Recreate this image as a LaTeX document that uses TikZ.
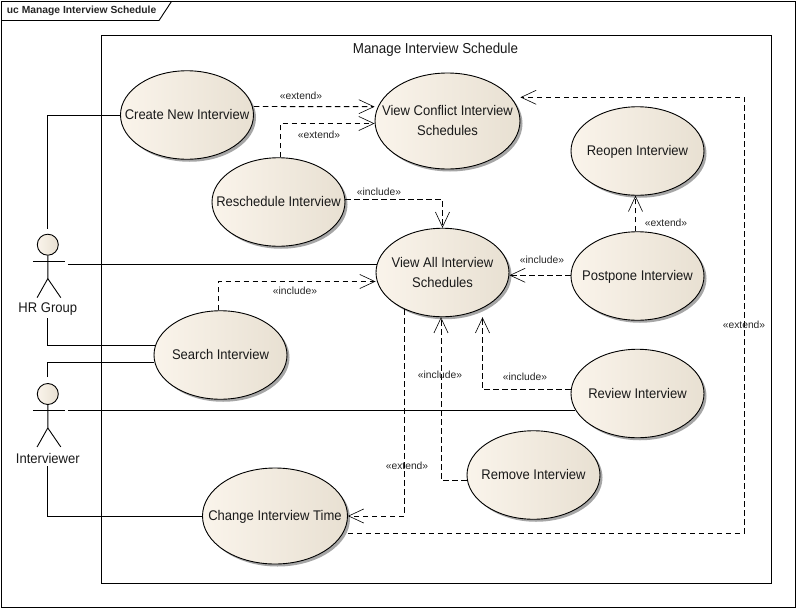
\documentclass[tikz,border=0pt]{standalone}
\usepackage{fontspec}
\setmainfont{Liberation Sans}
\newfontfamily\casefont[FakeStretch=0.93]{Liberation Sans}
\usetikzlibrary{positioning,shapes.geometric,shadows,arrows.meta}
\newcommand{\casename}[1]{\makebox[0pt]{\smash{\raisebox{-4.5pt}{\begin{tabular}{@{}c@{}}#1\end{tabular}}}}}

\begin{document}
\begin{tikzpicture}[
      x=1pt, y=-1pt, on grid,
      every path/.style = {line width=0.9pt},
      usecase/.style = {ellipse, draw, inner sep=0pt, font=\casefont\fontsize{14}{20}\selectfont,
         text=black!90, minimum width=133pt, minimum height=88.5pt,
         left color=caseleft, middle color=casemid, right color=caseright,
         general shadow={shadow xshift=2.5pt, shadow yshift=-2.5pt, fill=black!35}},
      bigcase/.style = {usecase, minimum width=145pt, minimum height=96pt},
      actorhead/.style = {circle, draw, inner sep=0pt, minimum size=21pt,
         left color=caseleft, right color=caseright},
      actorlabel/.style = {inner sep=2pt, font=\casefont\fontsize{14}{16}\selectfont, text=black!90},
      stereo/.style = {inner sep=0pt, font=\fontsize{10.3}{12}\selectfont, text=black!85},
      assoc/.style = {line width=0.9pt},
      depend/.style = {line width=0.9pt, dash pattern=on 5.5pt off 3.5pt,
         -{Straight Barb[length=15pt,width=14pt,line width=0.6pt]}},
   ]
      \definecolor{caseleft}{RGB}{250,244,235}
      \definecolor{casemid}{RGB}{250,246,240}
      \definecolor{caseright}{RGB}{232,224,210}

      \useasboundingbox (0,0) rectangle (796,608);
      \fill[white] (0,0) rectangle (796,608);

      % frames
      \draw (1.5,1.5) rectangle (795,607);
      \draw (1.5,20.5) -- (159,20.5) -- (171.5,1.5);
      \node[font=\bfseries\fontsize{10.3}{12}\selectfont, anchor=west, inner sep=0pt, text=black!85]
         (frametitle) at (6.5,10.5) {uc Manage Interview Schedule};
      \draw (101.5,35.5) rectangle (771.5,583.5);
      \node[font=\casefont\fontsize{14.4}{16}\selectfont, text=black!90] (boxtitle) at (435.5,50)
         {Manage Interview Schedule};

      % use cases
      \node[usecase] (viewall) at (442.5,272.5) {\casename{View All Interview\\Schedules}};
      \node[bigcase, above right=151.5pt and 5pt of viewall]  (conflict) {\casename{View Conflict Interview\\Schedules}};
      \node[usecase, above left=157.5pt and 255.5pt of viewall] (create) {\casename{Create New Interview}};
      \node[usecase, above left=70.5pt and 164pt of viewall]  (resched) {\casename{Reschedule Interview}};
      \node[usecase, right=195pt of viewall, yshift=-3.5pt]   (postpone) {\casename{Postpone Interview}};
      \node[usecase, above=125pt of postpone]                 (reopen) {\casename{Reopen Interview}};
      \node[usecase, below=117.5pt of postpone]               (review) {\casename{Review Interview}};
      \node[usecase, below left=81.5pt and 104pt of review]   (remove) {\casename{Remove Interview}};
      \node[usecase, below left=82.5pt and 222pt of viewall]  (search) {\casename{Search Interview}};
      \node[bigcase, below left=243.5pt and 167.5pt of viewall] (change) {\casename{Change Interview Time}};

      % actors
      \node[actorhead] (hrhead) at (47.8,244.7) {};
      \node[actorlabel, below=64.8pt of hrhead] (hrlabel) {HR Group};
      \coordinate[below right=19.5pt and 20pt of hrhead] (hrarm);
      \draw (hrhead.south) -- ++(0,23) coordinate (hrhip) -- ++(-10.7,19);
      \draw (hrhip) -- ++(13,19);
      \draw ([shift={(-15pt,-17pt)}]hrhead.center) -- ++(32,0);

      \node[actorhead] (ivhead) at (47.8,394) {};
      \node[actorlabel, below=64.5pt of ivhead] (ivlabel) {Interviewer};
      \coordinate[below right=16.5pt and 20pt of ivhead] (ivarm);
      \draw (ivhead.south) -- ++(0,23) coordinate (ivhip) -- ++(-10.7,19);
      \draw (ivhip) -- ++(13,19);
      \draw ([shift={(-15pt,-16.5pt)}]ivhead.center) -- ++(32,0);

      % associations
      \draw[assoc, shorten <=5pt] (hrhead.north) |- (create.west);
      \draw[assoc] (hrarm) -- (hrarm -| viewall.172.6);
      \draw[assoc] (hrlabel.south) |- (search.172.6);
      \draw[assoc, shorten <=6pt] (ivhead.north) |- (search.186);
      \draw[assoc] (ivarm) -- (ivarm -| review.195.5);
      \draw[assoc] (ivlabel.south) |- (change.west);

      % extend and include
      \coordinate (outer) at (744.7,97.3);
      \draw[depend] ([yshift=8.5pt]create.east) -- ([yshift=14.3pt]conflict.west);
      \draw[depend] ([xshift=2pt]resched.north) |- ([yshift=-2.5pt]conflict.west);
      \draw[depend] ([yshift=2.5pt]resched.east) -| (viewall.north);
      \draw[depend] ([xshift=-2pt]search.north) |- ([yshift=-9pt]viewall.west);
      \draw[depend] ([yshift=0.7pt]postpone.west) -- ([yshift=-2.8pt]viewall.east);
      \draw[depend] ([xshift=-2pt]postpone.north) -- ([xshift=-2pt]reopen.south);
      \draw[depend] ([yshift=4pt]review.west) -| ([xshift=40pt]viewall.south);
      \draw[depend] ([yshift=-5.3pt]remove.west) -| ([xshift=-1.5pt]viewall.south);
      \draw[depend] (viewall.224) |- (change.east);
      \draw[depend] ([yshift=-17pt]change.east) -| (outer) -- ([yshift=23.7pt]conflict.east);

      % stereotypes
      \node[stereo] (ext1) at (301,96)  {«extend»};
      \node[stereo] (ext2) at (319,135) {«extend»};
      \node[stereo] (inc1) at (379,192) {«include»};
      \node[stereo] (inc2) at (295,291) {«include»};
      \node[stereo] (inc3) at (542,260) {«include»};
      \node[stereo] (ext3) at (666,223) {«extend»};
      \node[stereo] (inc4) at (525,377) {«include»};
      \node[stereo] (inc5) at (440,375) {«include»};
      \node[stereo] (ext4) at (407,466) {«extend»};
      \node[stereo] (ext5) at (744,325) {«extend»};
\end{tikzpicture}
\end{document}
